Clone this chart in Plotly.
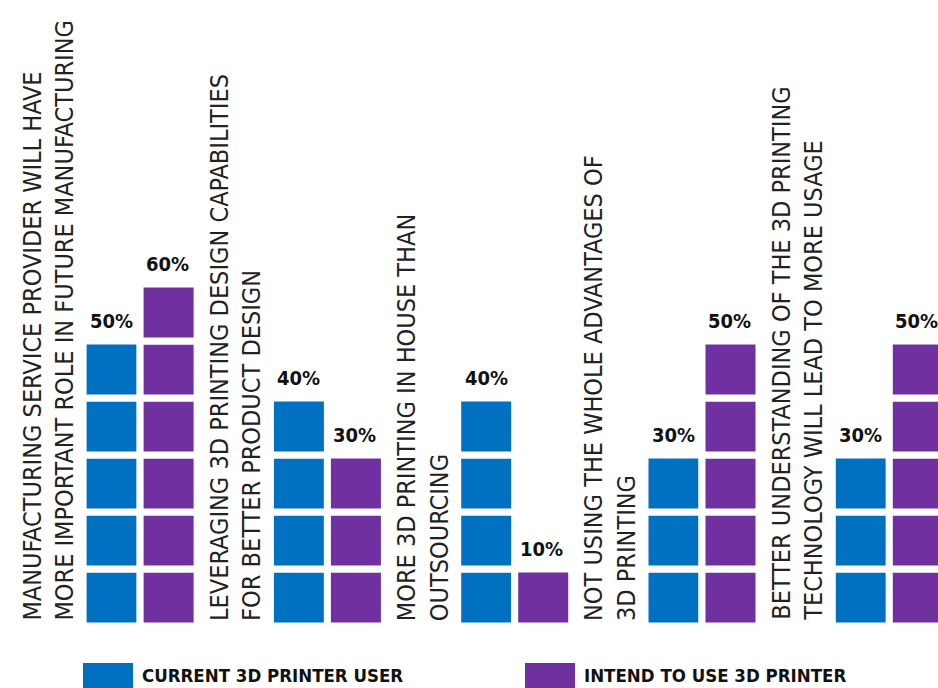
import plotly.graph_objects as go

# ---- data ----
categories = [
    "MANUFACTURING SERVICE PROVIDER WILL HAVE<br>MORE IMPORTANT ROLE IN FUTURE MANUFACTURING",
    "LEVERAGING 3D PRINTING DESIGN CAPABILITIES<br>FOR BETTER PRODUCT DESIGN",
    "MORE 3D PRINTING IN HOUSE THAN<br>OUTSOURCING",
    "NOT USING THE WHOLE ADVANTAGES OF<br>3D PRINTING",
    "BETTER UNDERSTANDING OF THE 3D PRINTING<br>TECHNOLOGY WILL LEAD TO MORE USAGE",
]
current_user = [50, 40, 40, 30, 30]
intend_to_use = [60, 30, 10, 50, 50]
series_names = ["CURRENT 3D PRINTER USER", "INTEND TO USE 3D PRINTER"]
block_step = 10

# ---- style ----
W, H = 938, 688
BOTTOM = 62
PLOT_H = H - BOTTOM
PX_PER_UNIT = 5.7
colors = ["#0070C0", "#7030A0"]
FONT = "DejaVu Sans Condensed, Liberation Sans Narrow, Arial Narrow, sans-serif"

fig = go.Figure()
series = [current_user, intend_to_use]
for s_idx, (vals, col, name) in enumerate(zip(series, colors, series_names)):
    xs, ys, bases = [], [], []
    for cat, v in zip(categories, vals):
        for k in range(int(v // block_step)):
            xs.append(cat)
            ys.append(block_step)
            bases.append(k * block_step)
    fig.add_trace(go.Bar(
        x=xs, y=ys, base=bases, name=name,
        marker=dict(color=col, line=dict(color="white", width=7)),
        showlegend=False, hoverinfo="skip",
    ))

annotations = []
# value labels
for s_idx, vals in enumerate(series):
    shift = -28.5 if s_idx == 0 else 27
    for cat, v in zip(categories, vals):
        annotations.append(dict(
            x=cat, y=v, xref="x", yref="y", text=f"<b>{v}%</b>",
            showarrow=False, xanchor="center", yanchor="bottom",
            xshift=shift, yshift=6,
            font=dict(family=FONT, size=20, color="#111111"),
        ))
# rotated category labels
for cat in categories:
    annotations.append(dict(
        x=cat, y=0, xref="x", yref="y", text=cat, textangle=-90,
        showarrow=False, xanchor="center", yanchor="bottom", align="left",
        xshift=-92, yshift=3,
        font=dict(family=FONT, size=25, color="#222222"),
    ))

def px_x(px):
    return px / W

def px_y(py):
    return (PLOT_H - py) / PLOT_H

shapes = []
legend_pos = [83, 525]
for name, col, lx in zip(series_names, colors, legend_pos):
    shapes.append(dict(type="rect", xref="paper", yref="paper",
                       x0=px_x(lx), x1=px_x(lx + 50), y0=px_y(663), y1=px_y(690),
                       fillcolor=col, line=dict(width=0)))
    annotations.append(dict(
        x=px_x(lx + 57), y=px_y(675), xref="paper", yref="paper",
        text=f"<b>{name}</b>", showarrow=False, xanchor="left", yanchor="middle",
        font=dict(family=FONT, size=18.5, color="#111111"),
    ))

fig.update_layout(
    width=W, height=H,
    margin=dict(l=0, r=0, t=0, b=BOTTOM, pad=0),
    paper_bgcolor="white", plot_bgcolor="white",
    barmode="group", bargap=0.3913, bargroupgap=0,
    xaxis=dict(type="category", range=[-0.748, 4.260], visible=False,
               categoryorder="array", categoryarray=categories),
    yaxis=dict(range=[0, PLOT_H / PX_PER_UNIT], visible=False),
    annotations=annotations, shapes=shapes,
    showlegend=False,
)

fig.write_html("out.html")
